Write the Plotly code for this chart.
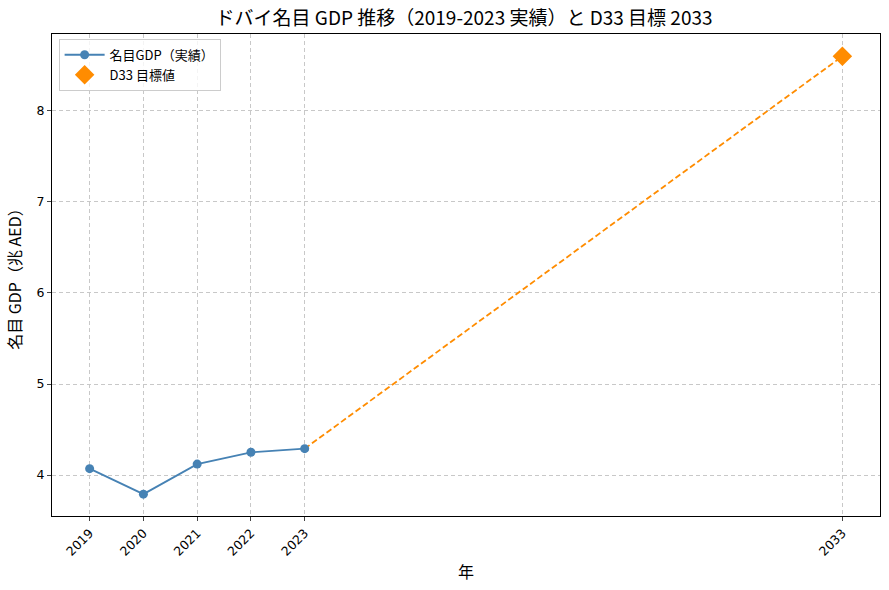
import plotly.graph_objects as go

years = [2019, 2020, 2021, 2022, 2023]
gdp_actual = [4.07, 3.79, 4.12, 4.25, 4.29]
target_year = 2033
target_gdp = 8.60
tick_years = [2019, 2020, 2021, 2022, 2023, 2033]

FONT = "Noto Sans CJK JP"
TICK_FONT = "DejaVu Sans"
blue = "steelblue"
orange = "darkorange"

fig = go.Figure()

# dashed projection from last actual to target
fig.add_trace(go.Scatter(
    x=[years[-1], target_year], y=[gdp_actual[-1], target_gdp],
    mode="lines", line=dict(color=orange, width=1.8, dash="6px,3px"),
    showlegend=False, hoverinfo="skip",
))
fig.add_trace(go.Scatter(
    x=years, y=gdp_actual, mode="lines+markers", name="名目GDP（実績）",
    line=dict(color=blue, width=1.8), marker=dict(color=blue, size=9),
))
fig.add_trace(go.Scatter(
    x=[target_year], y=[target_gdp], mode="markers", name="D33 目標値",
    marker=dict(color=orange, size=15, symbol="diamond"),
))

fig.update_layout(
    width=889, height=590,
    paper_bgcolor="white", plot_bgcolor="white",
    font=dict(family=FONT, size=12.5, color="black"),
    title=dict(text="ドバイ名目 GDP 推移（2019-2023 実績）と D33 目標 2033",
               x=0.522, xanchor="center", y=1 - 18 / 590, yanchor="middle",
               font=dict(size=19), automargin=False),
    margin=dict(l=52, r=9, t=34, b=74, autoexpand=False),
    legend=dict(x=0.008, y=0.99, xanchor="left", yanchor="top",
                bgcolor="rgba(255,255,255,0.8)", bordercolor="#cccccc",
                borderwidth=1, font=dict(size=13), itemwidth=40),
    showlegend=True,
)
fig.update_xaxes(
    range=[2018.3, 2033.7], tickvals=tick_years, ticktext=[str(y) for y in tick_years],
    tickangle=-45, ticks="outside", ticklen=4, showline=True, linecolor="black",
    mirror=True, showgrid=True, gridcolor="#c8c8c8", griddash="4px,3px", zeroline=False,
    tickfont=dict(family=TICK_FONT, size=12.5),
    automargin=False, title=dict(text="年", font=dict(size=16), standoff=9),
)
fig.update_yaxes(
    range=[3.55, 8.845], tickvals=[4, 5, 6, 7, 8], ticks="outside", ticklen=4,
    showline=True, linecolor="black", mirror=True, showgrid=True,
    gridcolor="#c8c8c8", griddash="4px,3px", zeroline=False, automargin=False,
    tickfont=dict(family=TICK_FONT, size=12.5),
    title=dict(text="名目 GDP（兆 AED）", font=dict(size=16), standoff=10),
)

fig.write_html("out.html", config={"displayModeBar": False},
               post_script="document.body.style.margin='0';")
